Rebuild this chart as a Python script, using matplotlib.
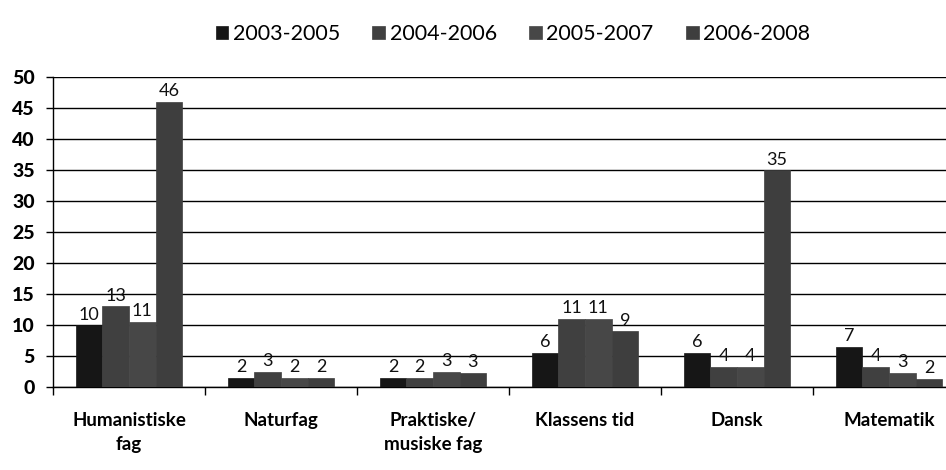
import matplotlib
matplotlib.use("Agg")
import matplotlib.pyplot as plt
import numpy as np

categories = ["Humanistiske\nfag", "Naturfag", "Praktiske/\nmusiske fag", "Klassens tid", "Dansk", "Matematik"]
series_names = ["2003-2005", "2004-2006", "2005-2007", "2006-2008"]
# bar heights
s2003 = [10, 1.5, 1.5, 5.5, 5.5, 6.5]
s2004 = [13, 2.5, 1.5, 11, 3.3, 3.3]
s2005 = [10.5, 1.5, 2.5, 11, 3.3, 2.3]
s2006 = [46, 1.5, 2.3, 9, 35, 1.3]
# printed data labels
l2003 = ["10", "2", "2", "6", "6", "7"]
l2004 = ["13", "3", "2", "11", "4", "4"]
l2005 = ["11", "2", "3", "11", "4", "3"]
l2006 = ["46", "2", "3", "9", "35", "2"]
yticks = [0, 5, 10, 15, 20, 25, 30, 35, 40, 45, 50]

series = [s2003, s2004, s2005, s2006]
labels = [l2003, l2004, l2005, l2006]
colors = ["#161616", "#404040", "#474747", "#3e3e3e"]

plt.rcParams['font.family'] = ['Lato', 'DejaVu Sans']

fig = plt.figure(figsize=(9.46, 4.70), dpi=100)
ax = fig.add_axes([53/946, 83/470, 6*152/946, 310/470])

x = np.arange(len(categories))
w = 0.175
handles = []
for k, (vals, labs) in enumerate(zip(series, labels)):
    pos = x - 1.5*w + k*w
    b = ax.bar(pos, vals, width=w, color=colors[k], edgecolor=colors[k], linewidth=0.5,
               label=series_names[k], zorder=3)
    handles.append(b)
    for px, v, t in zip(pos, vals, labs):
        ax.text(px, v + 0.4, t, ha='center', va='bottom', fontsize=13, color='#111111', zorder=4)

ax.set_xlim(-0.5, len(categories) - 0.5)
ax.set_ylim(0, 50)
ax.set_yticks(yticks)
ax.set_yticklabels([str(t) for t in yticks], fontsize=14, fontweight='black')
ax.yaxis.grid(True, color='black', linewidth=1.0, zorder=0)
ax.set_axisbelow(True)

ax.set_xticks(x)
ax.set_xticklabels(categories, fontsize=13.5, fontweight='bold', linespacing=1.5)
ax.tick_params(axis='x', length=0, pad=18)
ax.set_xticks(np.arange(-0.5, len(categories), 1), minor=True)
ax.tick_params(axis='x', which='minor', length=6, direction='out', width=1)
ax.tick_params(axis='y', length=5, direction='out', width=1, pad=8)

for s in ['top', 'right']:
    ax.spines[s].set_visible(False)
ax.spines['left'].set_linewidth(1)
ax.spines['bottom'].set_linewidth(1)

fig.legend(handles=handles, labels=series_names, loc='upper center', bbox_to_anchor=(0.542, 0.99),
           ncol=4, frameon=False, fontsize=15.5, handlelength=0.6, handleheight=0.6,
           columnspacing=1.5, handletextpad=0.2)

fig.savefig("out.png", dpi=100)
